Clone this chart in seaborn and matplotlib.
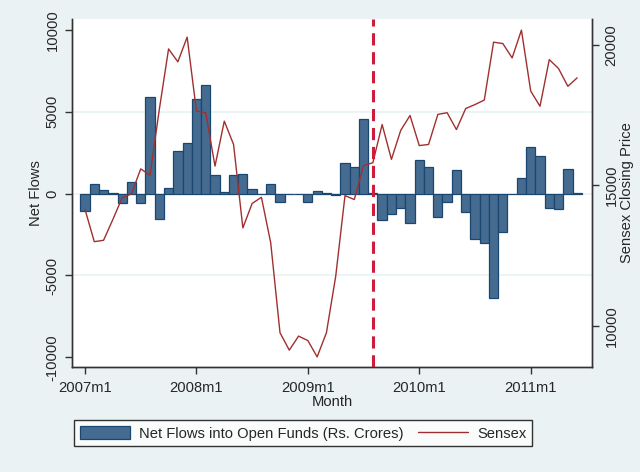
import matplotlib
matplotlib.use("Agg")
import matplotlib.pyplot as plt
import seaborn as sns
import pandas as pd
from matplotlib.patches import Patch
from matplotlib.lines import Line2D

# monthly data, 2007m1 .. 2011m6
months = [f"{y}m{m}" for y in range(2007, 2012) for m in range(1, 13)][:54]

net_flows = [-1050, 615, 225, 60, -575, 717, -575, 5880, -1557, 370, 2580, 3070,
             5780, 6620, 1127, 120, 1127, 1210, 307, -50, 615, -490, 0, 0,
             -490, 140, 60, -60, 1845, 1600, 4570, 40, -1620, -1270, -860, -1780,
             2030, 1600, -1430, -530, 1430, -1100, -2750, -2990, -6350, -2340, -40, 940,
             2830, 2300, -860, -960, 1500, 40]

sensex = [14150, 13000, 13050, 13790, 14560, 14700, 15590, 15370, 17700, 19860, 19400, 20280,
          17650, 17590, 15690, 17290, 16460, 13490, 14360, 14580, 12960, 9760, 9140, 9640,
          9480, 8900, 9760, 11770, 14640, 14500, 15710, 15810, 17170, 15930, 16960, 17490,
          16420, 16460, 17530, 17590, 16990, 17740, 17880, 18040, 20100, 20050, 19540, 20530,
          18360, 17820, 19480, 19160, 18530, 18830]

tick_labels = ["2007m1", "2008m1", "2009m1", "2010m1", "2011m1"]
event_month = "2009m8"

df = pd.DataFrame({"month": months, "idx": range(len(months)),
                   "flows": net_flows, "sensex": sensex})

sns.set_style("white")
plt.rcParams["font.family"] = ["Liberation Sans", "DejaVu Sans"]
plt.rcParams["font.size"] = 10.6

bg = "#eaf2f3"
bar_fill = "#456c90"
bar_edge = "#1a476f"
line_col = "#a0302f"

fig = plt.figure(figsize=(6.4, 4.72), dpi=100, facecolor=bg)
ax = fig.add_axes([72 / 640, 1 - 367 / 472, 520 / 640, 348 / 472])
ax.set_facecolor("white")

# light grid lines of the left axis
for yv in [-5000, 0, 5000]:
    ax.axhline(yv, color=bg, lw=1.2, zorder=0)

sns.barplot(data=df, x="idx", y="flows", native_scale=True, width=1.0,
            color=bar_fill, saturation=1, edgecolor=bar_edge, linewidth=0.9,
            errorbar=None, ax=ax, zorder=2)

ax.set_xlim(-1.4, 54.6)
ax.set_ylim(-10590, 10670)
ax.set_yticks([-10000, -5000, 0, 5000, 10000])
ax.set_yticklabels(["-10000", "-5000", "0", "5000", "10000"], rotation=90, va="center")
ax.set_xticks([months.index(t) for t in tick_labels])
ax.set_xticklabels(tick_labels)
ax.set_ylabel("Net Flows", labelpad=2)
ax.set_xlabel("Month", labelpad=0)
ax.tick_params(axis="both", direction="out", length=5, width=1, color="#333333",
               left=True, bottom=True, pad=5)
ax.tick_params(axis="y", pad=4)

ax2 = ax.twinx()
sns.lineplot(data=df, x="idx", y="sensex", color=line_col, linewidth=1, ax=ax2)
ax2.axvline(months.index(event_month), color="#d01c3c", lw=2.2,
            linestyle=(0, (4, 2.2)))
ax2.set_ylim(8540, 20925)
ax2.set_yticks([10000, 15000, 20000])
ax2.set_yticklabels(["10000", "15000", "20000"], rotation=90, va="center")
ax2.set_ylabel("Sensex Closing Price", labelpad=1)
ax2.tick_params(axis="y", direction="out", length=5, width=1, color="#333333",
                right=True, pad=4)
ax2.set_xlim(-1.4, 54.6)

for a in (ax, ax2):
    for s in a.spines.values():
        s.set_color("#333333")
        s.set_linewidth(1)
    a.spines["top"].set_visible(False)

handles = [Patch(facecolor=bar_fill, edgecolor=bar_edge, linewidth=0.9),
           Line2D([], [], color=line_col, lw=1)]
labels = ["Net Flows into Open Funds (Rs. Crores)", "Sensex"]
leg = fig.legend(handles, labels, loc="upper left",
                 bbox_to_anchor=(74 / 640, 1 - 420 / 472), ncol=2,
                 frameon=True, fancybox=False, edgecolor="black",
                 handlelength=3.4, handleheight=1.0, columnspacing=1.0,
                 borderaxespad=0, borderpad=0.4, handletextpad=0.6)
leg.get_frame().set_linewidth(1)
leg.get_frame().set_facecolor("white")

fig.savefig("out.png", dpi=100, facecolor=bg)
